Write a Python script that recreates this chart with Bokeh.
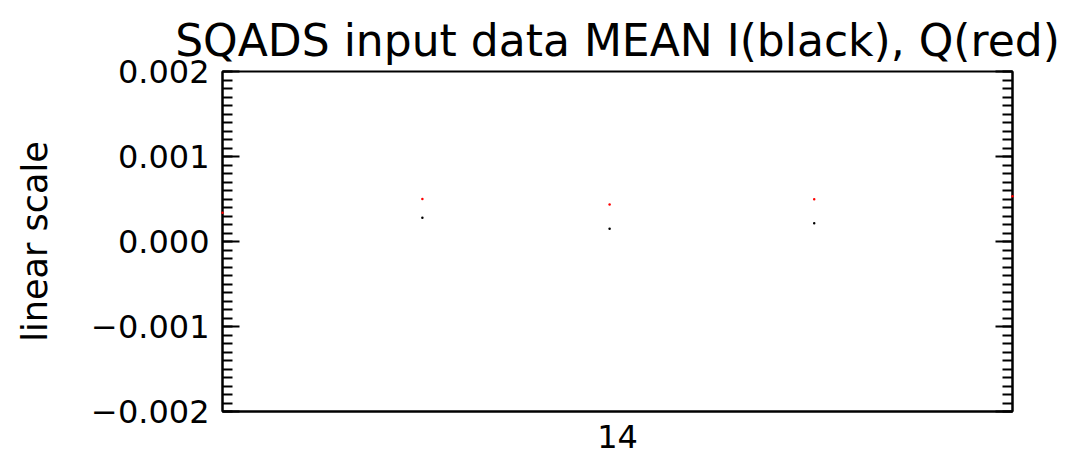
import numpy as np
from bokeh.plotting import figure
from bokeh.models import Range1d, LinearAxis, FixedTicker, CustomJSTickFormatter
from bokeh.embed import file_html
from bokeh.resources import INLINE

# ---- data ----
title_text = "SQADS input data MEAN I(black), Q(red)"
y_label = "linear scale"
x_tick_pos = [14.0]
x_tick_labels = ["14"]
y_tick_pos = [-0.002, -0.001, 0.0, 0.001, 0.002]
y_tick_labels = ["\u22120.002", "\u22120.001", "0.000", "0.001", "0.002"]

q_x = [13.5, 13.753, 13.990, 14.249, 14.5]
q_y = [0.000337, 0.000499, 0.000434, 0.000496, 0.000532]
i_x = [13.753, 13.990, 14.249]
i_y = [0.000278, 0.000149, 0.000215]

FONT = "DejaVu Sans"
X0, X1 = 13.5, 14.5
Y0, Y1 = -0.002, 0.002

p = figure(width=1063, height=459, output_backend="svg", toolbar_location=None,
           x_range=Range1d(X0, X1), y_range=Range1d(Y0, Y1),
           min_border_left=222, min_border_right=51, min_border_top=71,
           min_border_bottom=48)

p.background_fill_color = "white"
p.border_fill_color = "white"
p.xgrid.visible = False
p.ygrid.visible = False
p.outline_line_color = "black"
p.outline_line_width = 2

# title
p.title.text = title_text
p.title.text_font = FONT
p.title.text_font_size = "44px"
p.title.text_font_style = "normal"
p.title.text_color = "black"
p.title.align = "center"
p.title.standoff = 11

# x axis
xa = p.xaxis[0]
xa.ticker = FixedTicker(ticks=x_tick_pos, minor_ticks=[])
xa.major_label_overrides = {x_tick_pos[0]: x_tick_labels[0]}
xa.major_tick_in = 0
xa.major_tick_out = 0
xa.minor_tick_in = 0
xa.minor_tick_out = 0
xa.axis_line_width = 2
xa.axis_line_color = "black"
xa.major_label_text_font = FONT
xa.major_label_text_font_size = "32px"
xa.major_label_text_color = "black"
xa.major_label_standoff = 13

minor = [round(v, 6) for v in np.arange(-0.002, 0.00201, 0.0001)]
yt = FixedTicker(ticks=y_tick_pos, minor_ticks=minor)


def style_y(ax):
    ax.ticker = yt
    ax.major_tick_in = 17
    ax.major_tick_out = 0
    ax.minor_tick_in = 10
    ax.minor_tick_out = 0
    ax.major_tick_line_width = 2
    ax.minor_tick_line_width = 2
    ax.major_tick_line_color = "black"
    ax.minor_tick_line_color = "black"
    ax.axis_line_width = 2
    ax.axis_line_color = "black"


ya = p.yaxis[0]
style_y(ya)
ya.major_label_overrides = dict(zip(y_tick_pos, y_tick_labels))
ya.major_label_text_font = FONT
ya.major_label_text_font_size = "32px"
ya.major_label_text_color = "black"
ya.major_label_standoff = 13
ya.axis_label = y_label
ya.axis_label_text_font = FONT
ya.axis_label_text_font_size = "35px"
ya.axis_label_text_font_style = "normal"
ya.axis_label_text_color = "black"
ya.axis_label_standoff = 33

ra = LinearAxis(formatter=CustomJSTickFormatter(code="return ''"))
style_y(ra)
ra.major_label_standoff = 0
p.add_layout(ra, "right")

r1 = p.scatter(i_x, i_y, size=2.5, color="black", line_color=None)
r2 = p.scatter(q_x, q_y, size=2.5, color="#ff0000", line_color=None)
r1.level = "overlay"
r2.level = "overlay"

open("out.html", "w").write(file_html(p, INLINE))
